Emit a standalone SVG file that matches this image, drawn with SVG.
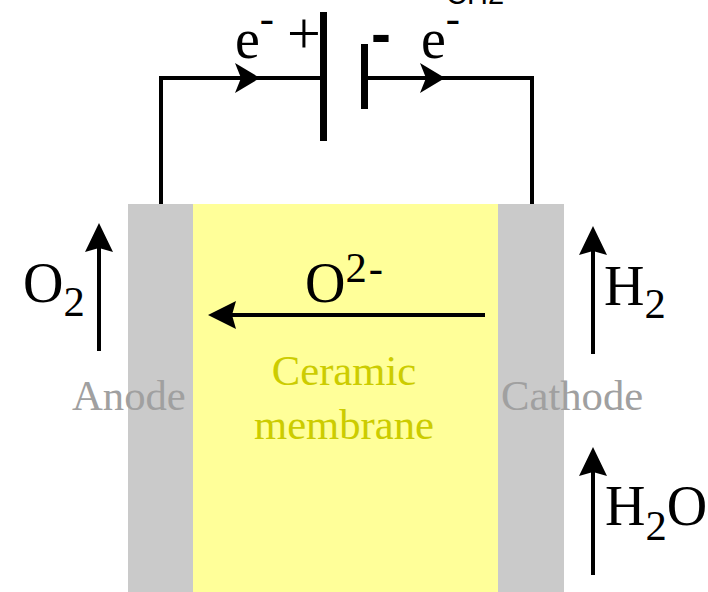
<svg xmlns="http://www.w3.org/2000/svg" width="708" height="592" viewBox="0 0 708 592">
<defs><style>
text{font-family:"Liberation Serif","Times New Roman",serif;fill:#000}
.f{font-size:56px}.u{font-size:42.67px}.g{font-size:42.67px;fill:#a0a0a0}.y{font-size:42.67px;fill:#cccc00;text-anchor:middle}
.w{fill:none;stroke:#000;stroke-width:4}
</style></defs>
<rect width="708" height="592" fill="#fff"/>
<g id="cell">
<rect id="anode" x="128" y="204" width="65" height="388" fill="#cacaca"/>
<rect id="membrane" x="193" y="204" width="305" height="388" fill="#ffff99"/>
<rect id="cathode" x="498" y="204" width="66" height="388" fill="#cacaca"/>
</g>
<g id="connectors">
<path class="w" d="M161 204V78H323M367 78H532V204"/>
<path d="M235 63L260 78L235 93L241 78Z"/><path d="M420 63L445 78L420 93L426 78Z"/>
<path class="w" d="M99 351V240M593 354V244M593 575V465M485 315H224"/>
<path d="M99 223L113 252L99 248L85 252Z"/><path d="M593 226L607 255L593 251L579 255Z"/><path d="M593 447L607 476L593 472L579 476Z"/><path d="M208 315L236 301L232 315L236 329Z"/>
</g>
<g id="battery"><rect x="320" y="12" width="7" height="129"/><rect x="361" y="44" width="7" height="65"/></g>
<g id="labels">
<text class="f" x="235" y="58">e<tspan class="u" dy="-26">-</tspan></text>
<text class="f" x="421" y="58">e<tspan class="u" dy="-26">-</tspan></text>
<text x="287" y="53" font-size="60">+</text>
<text x="371" y="54" font-size="60" style="font-family:'Liberation Sans',sans-serif;font-weight:bold">-</text>
<text x="446" y="4" font-size="29" style="font-family:'Liberation Sans',sans-serif">CH2</text>
<text class="f" x="23" y="302">O<tspan class="u" dy="14">2</tspan></text>
<text class="f" x="305" y="302">O<tspan class="u" dy="-20" letter-spacing="2">2-</tspan></text>
<text class="f" x="604" y="305">H<tspan class="u" dy="13">2</tspan></text>
<text class="f" x="605" y="525">H<tspan class="u" dy="15">2</tspan><tspan dy="-15">O</tspan></text>
<text class="g" x="72" y="410">Anode</text>
<text class="g" x="501" y="410">Cathode</text>
<text class="y" x="344" y="385">Ceramic</text>
<text class="y" x="344" y="439">membrane</text>
</g>
</svg>
